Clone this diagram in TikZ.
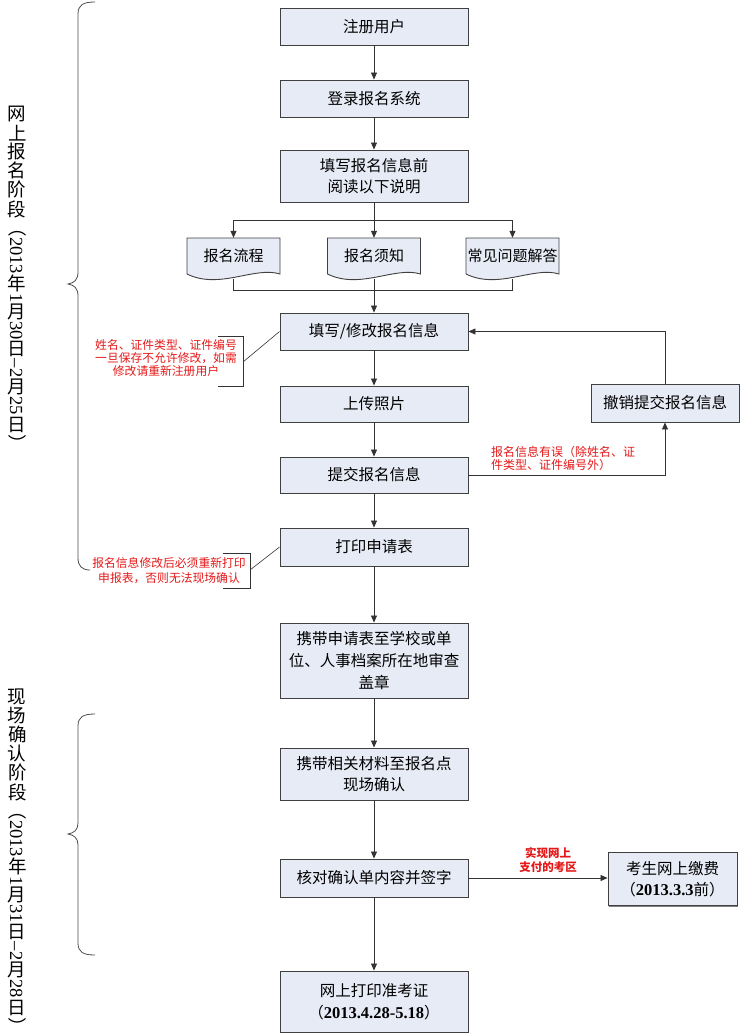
\documentclass[tikz,border=0pt]{standalone}
\usepackage{fontspec}
\usepackage{graphicx}
\setmainfont{Liberation Serif}
\newfontfamily\cjk{Noto Sans CJK SC}
\usetikzlibrary{arrows.meta,calc,shadows}
\definecolor{boxfill}{RGB}{231,235,246}
\definecolor{notered}{RGB}{228,24,24}
\newcommand{\vz}[1]{\makebox[1.03em]{\rotatebox[origin=c]{90}{\cjk #1}}}
\tikzset{
  box/.style={draw=black!75, line width=0.9pt, fill=boxfill, minimum width=188pt, minimum height=37pt,
    align=center, inner sep=2pt, font=\cjk\fontsize{15.5}{21}\selectfont,
    drop shadow={shadow xshift=1.2pt, shadow yshift=-1.2pt, fill=black!50, opacity=1}},
  docshape/.style={draw=black!75, line width=0.9pt, fill=boxfill},
  doctext/.style={minimum width=93pt, minimum height=36pt, inner sep=0pt, font=\cjk\fontsize{15}{18}\selectfont},
  line/.style={draw=black!80, line width=0.8pt},
  arr/.style={line, -{Triangle[length=7pt,width=6pt]}},
  note/.style={text=notered, align=center, inner sep=0pt, font=\cjk\fontsize{11.8}{13.3}\selectfont},
  brace/.style={draw=black!70, line width=0.8pt},
  stage/.style={rotate=-90, anchor=west, inner sep=0pt, font=\fontsize{18.5}{18.5}\selectfont},
}
\begin{document}
\begin{tikzpicture}[x=1pt,y=-1pt]
\useasboundingbox (0,0) rectangle (741,1034);

% stages
\node[stage] (stage1) at (17,104) {\vz{网}\vz{上}\vz{报}\vz{名}\vz{阶}\vz{段}{\cjk （}2013\vz{年}1\vz{月}30\vz{日}--2\vz{月}25\vz{日}{\cjk ）}};
\node[stage] (stage2) at (17,687) {\vz{现}\vz{场}\vz{确}\vz{认}\vz{阶}\vz{段}{\cjk （}2013\vz{年}1\vz{月}31\vz{日}--2\vz{月}28\vz{日}{\cjk ）}};
\draw[brace] (95,2) .. controls (83,2) and (78,5) .. (78,14) -- (78,272) .. controls (78,280) and (74,283) .. (68,284)
  .. controls (74,285) and (78,288) .. (78,296) -- (78,558) .. controls (78,566) and (82,570) .. (90,570);
\draw[brace] (95,714) .. controls (83,714) and (78,717) .. (78,726) -- (78,823) .. controls (78,830) and (74,833) .. (68,834)
  .. controls (74,835) and (78,838) .. (78,845) -- (78,943) .. controls (78,952) and (83,955) .. (95,955);

% main flow
\node[box] (reg) at (374,26.5) {注册用户};
\node[box] (login) at (374,98.5) {登录报名系统};
\node[box, minimum height=52pt] (read) at (374,176) {填写报名信息前\\阅读以下说明};

\foreach \x/\n/\t in {233.5/doc1/报名流程, 374/doc2/报名须知, 512.5/doc3/常见问题解答} {
  \filldraw[docshape] (\x-46.5,238) -- (\x+46.5,238) -- (\x+46.5,274)
    .. controls (\x+21,266) and (\x-14,290) .. (\x-46.5,274) -- cycle;
  \node[doctext] (\n) at (\x,256) {\t};
}

\node[box] (fill) at (374,331.5) {填写/修改报名信息};
\node[box, minimum height=36pt] (photo) at (374,404) {上传照片};
\node[box, minimum height=36pt] (submit) at (374,475) {提交报名信息};
\node[box, minimum height=38pt] (print) at (374,547) {打印申请表};
\node[box, minimum height=75pt, font=\cjk\fontsize{15.5}{22}\selectfont] (seal) at (374,660.5) {携带申请表至学校或单\\位、人事档案所在地审查\\盖章};
\node[box, minimum height=52pt] (onsite) at (374,774) {携带相关材料至报名点\\现场确认};
\node[box, minimum height=38pt] (check) at (374,878) {核对确认单内容并签字};
\node[box, minimum height=61pt, font=\cjk\fontsize{15.5}{22}\selectfont] (ticket) at (374,1001.5) {网上打印准考证\\（{\rmfamily\bfseries\fontsize{16.5}{22}\selectfont 2013.4.28-5.18}）};

\node[box, minimum width=148pt, minimum height=38pt] (cancel) at (665,403) {撤销提交报名信息};
\node[box, minimum width=129pt, minimum height=53pt] (pay) at (672.5,879) {考生网上缴费\\（{\rmfamily\bfseries\fontsize{16.5}{21}\selectfont 2013.3.3}前）};

% connectors
\foreach \a/\b in {reg/login, login/read, fill/photo, photo/submit, submit/print, print/seal, seal/onsite, onsite/check, check/ticket}
  \draw[arr] (\a) -- (\b);

\coordinate (split) at (374,220);
\coordinate (collect) at (374,290);
\draw[line] (read) -- (split);
\draw[arr] (split) -- (doc2);
\draw[arr] (split) -| (doc1);
\draw[arr] (split) -| (doc3);
\draw[line] ($(doc1.south)+(0,5)$) |- (collect);
\draw[line] ($(doc3.south)+(0,5)$) |- (collect);
\draw[arr] ($(doc2.south)+(0,5)$) -- (fill);

\draw[arr] (submit) -| (cancel);
\draw[arr] (cancel) |- (fill);
\draw[arr] (check.east) -- (check.east -| pay.west);

% notes
\node[note] (note1) at (166,358) {姓名、证件类型、证件编号\\一旦保存不允许修改，如需\\修改请重新注册用户};
\coordinate (hook1) at (243,362);
\draw[line, line width=0.6pt] (218,336) -| (243,386) -- (218,386);
\draw[line, line width=0.6pt] (hook1) -- (fill.west);

\node[note, font=\cjk\fontsize{11.8}{15}\selectfont] (note2) at (169,570.5) {报名信息修改后必须重新打印\\申报表，否则无法现场确认};
\coordinate (hook2) at (250,570);
\draw[line, line width=0.6pt] (223,553) -| (250,588) -- (223,588);
\draw[line, line width=0.6pt] (hook2) -- (print.west);

\node[note, align=left, anchor=west, font=\cjk\fontsize{12}{13.5}\selectfont] (note3) at (491,458.5) {报名信息有误（除姓名、证\\件类型、证件编号外）};
\node[note, font=\cjk\bfseries\fontsize{11.5}{14.5}\selectfont] (note4) at (548,860) {实现网上\\支付的考区};
\end{tikzpicture}
\end{document}
